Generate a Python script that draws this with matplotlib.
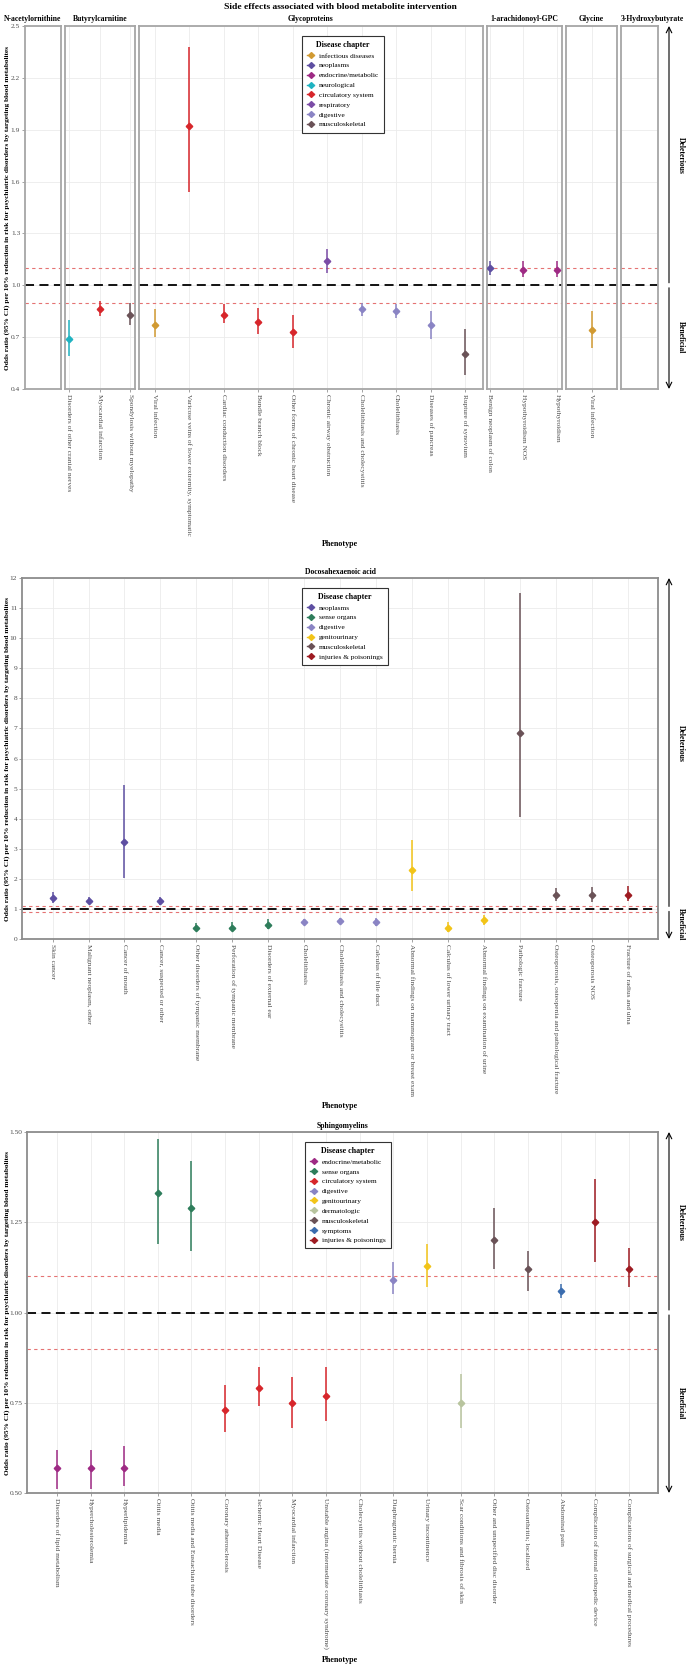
import matplotlib.pyplot as plt
import matplotlib.transforms as mtrans
from matplotlib.lines import Line2D
import numpy as np

plt.rcParams['font.family'] = ['Liberation Serif', 'DejaVu Serif']

chapter_col = {
    'infectious diseases': '#D19A32',
    'neoplasms': '#5E4FA2',
    'endocrine/metabolic': '#9E2A84',
    'neurological': '#1FB3C1',
    'circulatory system': '#D7262B',
    'respiratory': '#7B4CA6',
    'digestive': '#8A84C4',
    'musculoskeletal': '#6A5257',
    'sense organs': '#2E7D5B',
    'genitourinary': '#F2C418',
    'injuries & poisonings': '#9E1B22',
    'dermatologic': '#B8C49E',
    'symptoms': '#3B6DAF',
}

# ---- panel 1: several metabolites
p1_boxes = ['N-acetylornithine', 'Butyrylcarnitine', 'Glycoproteins',
            '1-arachidonoyl-GPC', 'Glycine', '3-Hydroxybutyrate']
p1_box = ['Butyrylcarnitine'] * 3 + ['Glycoproteins'] * 10 + ['1-arachidonoyl-GPC'] * 3 + ['Glycine']
p1_pheno = ['Disorders of other cranial nerves', 'Myocardial infarction', 'Spondylosis without myelopathy',
            'Viral infection', 'Varicose veins of lower extremity, symptomatic', 'Cardiac conduction disorders',
            'Bundle branch block', 'Other forms of chronic heart disease', 'Chronic airway obstruction',
            'Cholelithiasis and cholecystitis', 'Cholelithiasis', 'Diseases of pancreas', 'Rupture of synovium',
            'Benign neoplasm of colon', 'Hypothyroidism NOS', 'Hypothyroidism', 'Viral infection']
p1_chap = ['neurological', 'circulatory system', 'musculoskeletal', 'infectious diseases', 'circulatory system',
           'circulatory system', 'circulatory system', 'circulatory system', 'respiratory', 'digestive',
           'digestive', 'digestive', 'musculoskeletal', 'neoplasms', 'endocrine/metabolic',
           'endocrine/metabolic', 'infectious diseases']
p1_or = [0.69, 0.86, 0.83, 0.77, 1.92, 0.83, 0.79, 0.73, 1.14, 0.86, 0.85, 0.77, 0.60, 1.10, 1.09, 1.09, 0.74]
p1_lo = [0.59, 0.82, 0.77, 0.70, 1.54, 0.78, 0.72, 0.64, 1.07, 0.82, 0.81, 0.69, 0.48, 1.06, 1.05, 1.05, 0.64]
p1_hi = [0.80, 0.91, 0.90, 0.86, 2.38, 0.89, 0.87, 0.83, 1.21, 0.90, 0.89, 0.85, 0.75, 1.14, 1.14, 1.14, 0.85]
p1_legend = ['infectious diseases', 'neoplasms', 'endocrine/metabolic', 'neurological',
             'circulatory system', 'respiratory', 'digestive', 'musculoskeletal']

# ---- panel 2: Docosahexaenoic acid
p2_pheno = ['Skin cancer', 'Malignant neoplasm, other', 'Cancer of mouth', 'Cancer, suspected or other',
            'Other disorders of tympanic membrane', 'Perforation of tympanic membrane',
            'Disorders of external ear', 'Cholelithiasis', 'Cholelithiasis and cholecystitis',
            'Calculus of bile duct', 'Abnormal findings on mammogram or breast exam',
            'Calculus of lower urinary tract', 'Abnormal findings on examination of urine',
            'Pathologic fracture', 'Osteoporosis, osteopenia and pathological fracture',
            'Osteoporosis NOS', 'Fracture of radius and ulna']
p2_chap = ['neoplasms', 'neoplasms', 'neoplasms', 'neoplasms', 'sense organs', 'sense organs', 'sense organs',
           'digestive', 'digestive', 'digestive', 'genitourinary', 'genitourinary', 'genitourinary',
           'musculoskeletal', 'musculoskeletal', 'musculoskeletal', 'injuries & poisonings']
p2_or = [1.37, 1.27, 3.22, 1.25, 0.38, 0.38, 0.47, 0.57, 0.61, 0.56, 2.30, 0.37, 0.63, 6.85, 1.45, 1.45, 1.47]
p2_lo = [1.20, 1.15, 2.02, 1.13, 0.26, 0.26, 0.34, 0.50, 0.53, 0.44, 1.60, 0.22, 0.48, 4.05, 1.25, 1.22, 1.25]
p2_hi = [1.55, 1.40, 5.12, 1.38, 0.54, 0.55, 0.65, 0.65, 0.70, 0.70, 3.30, 0.58, 0.80, 11.5, 1.68, 1.72, 1.75]
p2_legend = ['neoplasms', 'sense organs', 'digestive', 'genitourinary', 'musculoskeletal', 'injuries & poisonings']

# ---- panel 3: Sphingomyelins
p3_pheno = ['Disorders of lipid metabolism', 'Hypercholesterolemia', 'Hyperlipidemia', 'Otitis media',
            'Otitis media and Eustachian tube disorders', 'Coronary atherosclerosis', 'Ischemic Heart Disease',
            'Myocardial infarction', 'Unstable angina (intermediate coronary syndrome)',
            'Cholecystitis without cholelithiasis', 'Diaphragmatic hernia', 'Urinary incontinence',
            'Scar conditions and fibrosis of skin', 'Other and unspecified disc disorder',
            'Osteoarthritis; localized', 'Abdominal pain', 'Complication of internal orthopedic device',
            'Complications of surgical and medical procedures']
p3_chap = ['endocrine/metabolic', 'endocrine/metabolic', 'endocrine/metabolic', 'sense organs', 'sense organs',
           'circulatory system', 'circulatory system', 'circulatory system', 'circulatory system', 'digestive',
           'digestive', 'genitourinary', 'dermatologic', 'musculoskeletal', 'musculoskeletal', 'symptoms',
           'injuries & poisonings', 'injuries & poisonings']
p3_or = [0.57, 0.57, 0.57, 1.33, 1.29, 0.73, 0.79, 0.75, 0.77, np.nan, 1.09, 1.13, 0.75, 1.20, 1.12, 1.06, 1.25, 1.12]
p3_lo = [0.51, 0.51, 0.52, 1.19, 1.17, 0.67, 0.74, 0.68, 0.70, np.nan, 1.05, 1.07, 0.68, 1.12, 1.06, 1.04, 1.14, 1.07]
p3_hi = [0.62, 0.62, 0.63, 1.48, 1.42, 0.80, 0.85, 0.82, 0.85, np.nan, 1.14, 1.19, 0.83, 1.29, 1.17, 1.08, 1.37, 1.18]
p3_legend = ['endocrine/metabolic', 'sense organs', 'circulatory system', 'digestive', 'genitourinary',
             'dermatologic', 'musculoskeletal', 'symptoms', 'injuries & poisonings']

ylab = 'Odds ratio (95% CI) per 10% reduction in risk for psychiatric disorders by targeting blood metabolites'

W, H = 688, 1667
fig = plt.figure(figsize=(W / 100, H / 100), dpi=100)
fs = 5.3
tcol = '#4d4d4d'


def px_axes(x0, x1, y0, y1):
    return fig.add_axes([x0 / W, 1 - y1 / H, (x1 - x0) / W, (y1 - y0) / H])


def style(ax, ylim, yticks, edge):
    ax.set_ylim(*ylim)
    ax.set_yticks(yticks)
    ax.grid(True, color='#ebebeb', lw=0.6)
    ax.set_axisbelow(True)
    for s in ax.spines.values():
        s.set_color(edge)
        s.set_linewidth(1.3)
    ax.tick_params(colors='#7f7f7f', labelcolor=tcol, labelsize=fs, length=2, width=0.5, pad=1.5)


def reflines(ax):
    ax.axhline(1.0, color='black', lw=1.3, dashes=(5, 3), zorder=2)
    for v in (0.9, 1.1):
        ax.axhline(v, color='#E57373', lw=0.8, dashes=(3, 3), zorder=2)


def draw_points(ax, xs, orr, lo, hi, chap):
    for x, o, l, h, c in zip(xs, orr, lo, hi, chap):
        if np.isnan(o):
            continue
        col = chapter_col[c]
        ax.vlines(x, l, h, color=col, lw=1.1, zorder=3)
        ax.plot(x, o, marker='D', ms=3.3, color=col, zorder=4)


def set_xlabels(ax, labels):
    ax.set_xticks(range(len(labels)))
    ax.set_xticklabels(labels, rotation=270, ha='center', va='top', fontsize=fs, color=tcol)


def legend(keys, x0, y0):
    hs = [Line2D([], [], color=chapter_col[k], marker='D', ms=3, lw=1.0) for k in keys]
    leg = fig.legend(hs, keys, loc='upper left', bbox_to_anchor=(x0 / W, 1 - y0 / H), title='Disease chapter',
                     fontsize=fs, title_fontproperties={'weight': 'bold', 'size': 5.8}, frameon=True,
                     fancybox=False, edgecolor='#333333', framealpha=1, handlelength=1.0, handletextpad=0.6,
                     labelspacing=0.5, borderpad=0.7)
    leg.get_frame().set_linewidth(0.8)


def side_arrows(ax):
    tr = mtrans.blended_transform_factory(fig.transFigure, ax.transData)
    y0, y1 = ax.get_ylim()
    g = 2.5 * (y1 - y0) / ax.bbox.height
    x = 669 / W
    ap = dict(arrowstyle='->', lw=0.8, color='black', shrinkA=0, shrinkB=0)
    ax.annotate('', xy=(x, y1), xytext=(x, 1 + g), xycoords=tr, textcoords=tr, arrowprops=ap, annotation_clip=False)
    ax.annotate('', xy=(x, y0), xytext=(x, 1 - g), xycoords=tr, textcoords=tr, arrowprops=ap, annotation_clip=False)
    ax.text(681 / W, (1 + y1) / 2, 'Deleterious', transform=tr, rotation=270, ha='center', va='center',
            fontsize=5.5, fontweight='bold', clip_on=False)
    ax.text(681 / W, (1 + y0) / 2, 'Beneficial', transform=tr, rotation=270, ha='center', va='center',
            fontsize=5.5, fontweight='bold', clip_on=False)


def side_text(y0, y1, xlab_y):
    fig.text(7 / W, 1 - (y0 + y1) / 2 / H, ylab, rotation=90, ha='center', va='center',
             fontsize=fs, fontweight='bold')
    fig.text(340 / W, 1 - xlab_y / H, 'Phenotype', ha='center', va='center', fontsize=5.8, fontweight='bold')


# ---------------- top panel
fig.text(340 / W, 1 - 7 / H, 'Side effects associated with blood metabolite intervention',
         ha='center', va='center', fontsize=6.8, fontweight='bold')
box_px = {'N-acetylornithine': (25, 61), 'Butyrylcarnitine': (65, 135), 'Glycoproteins': (139, 483),
          '1-arachidonoyl-GPC': (487, 562), 'Glycine': (566, 617), '3-Hydroxybutyrate': (621, 658)}
box_xlim = {'N-acetylornithine': (0, 1), 'Butyrylcarnitine': (-0.13, 2.16), 'Glycoproteins': (-0.45, 9.52),
            '1-arachidonoyl-GPC': (-0.09, 2.15), 'Glycine': (-0.75, 0.75), '3-Hydroxybutyrate': (0, 1)}
strip_x = {'N-acetylornithine': (4, 'left'), '3-Hydroxybutyrate': (684, 'right')}
t_y0, t_y1 = 26, 389
box_arr = np.array(p1_box)
first = None
for b in p1_boxes:
    x0, x1 = box_px[b]
    ax = px_axes(x0, x1, t_y0, t_y1)
    style(ax, (0.4, 2.5), [0.4, 0.7, 1.0, 1.3, 1.6, 1.9, 2.2, 2.5], '#a6a6a6')
    ax.set_xlim(*box_xlim[b])
    idx = np.where(box_arr == b)[0]
    if len(idx):
        set_xlabels(ax, [p1_pheno[i] for i in idx])
        draw_points(ax, range(len(idx)), [p1_or[i] for i in idx], [p1_lo[i] for i in idx],
                    [p1_hi[i] for i in idx], [p1_chap[i] for i in idx])
    else:
        ax.set_xticks([])
    reflines(ax)
    if first is None:
        first = ax
        ax.set_yticklabels(['0.4', '0.7', '1.0', '1.3', '1.6', '1.9', '2.2', '2.5'])
    else:
        ax.tick_params(axis='y', left=False, labelleft=False)
    sx, ha = strip_x.get(b, ((x0 + x1) / 2, 'center'))
    fig.text(sx / W, 1 - 19 / H, b, ha=ha, va='center', fontsize=5.5, fontweight='bold')
side_arrows(first)
side_text(t_y0, t_y1, 544)
legend(p1_legend, 298, 32)

# ---------------- middle panel
m_y0, m_y1 = 578, 939
ax2 = px_axes(22, 658, m_y0, m_y1)
style(ax2, (0, 12), range(0, 13), '#8c8c8c')
ax2.set_xlim(-0.85, len(p2_pheno) - 1 + 0.84)
set_xlabels(ax2, p2_pheno)
draw_points(ax2, range(len(p2_pheno)), p2_or, p2_lo, p2_hi, p2_chap)
reflines(ax2)
ax2.set_title('Docosahexaenoic acid', fontsize=5.5, fontweight='bold', pad=3)
side_arrows(ax2)
side_text(m_y0, m_y1, 1106)
legend(p2_legend, 298, 584)

# ---------------- bottom panel
b_y0, b_y1 = 1132, 1493
ax3 = px_axes(27, 658, b_y0, b_y1)
style(ax3, (0.5, 1.5), [0.5, 0.75, 1.0, 1.25, 1.5], '#8c8c8c')
ax3.set_yticklabels(['0.50', '0.75', '1.00', '1.25', '1.50'])
ax3.set_xlim(-0.89, len(p3_pheno) - 1 + 0.87)
set_xlabels(ax3, p3_pheno)
draw_points(ax3, range(len(p3_pheno)), p3_or, p3_lo, p3_hi, p3_chap)
reflines(ax3)
ax3.set_title('Sphingomyelins', fontsize=5.5, fontweight='bold', pad=3)
side_arrows(ax3)
side_text(b_y0, b_y1, 1660)
legend(p3_legend, 301, 1138)

fig.savefig('out.png', dpi=100, facecolor='white')
